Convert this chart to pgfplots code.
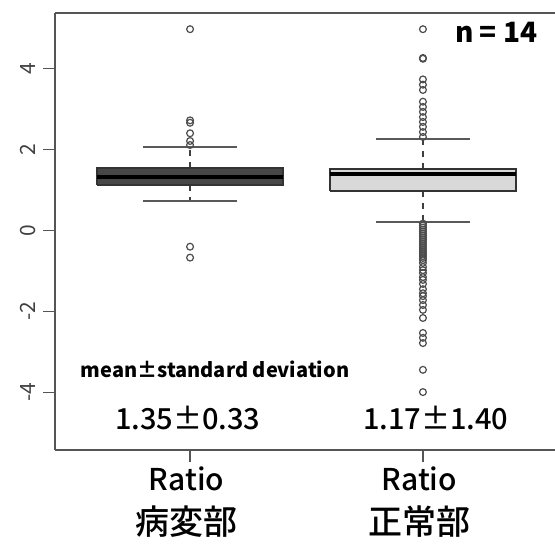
\documentclass[border=0pt]{standalone}
\usepackage{pgfplots}
\pgfplotsset{compat=1.18}
\usepackage{fontspec}
\setmainfont{Noto Sans CJK JP}
\newfontfamily\medium{Noto Sans CJK JP Medium}
\definecolor{axgray}{HTML}{555555}
\definecolor{boxdark}{HTML}{474747}
\definecolor{boxlight}{HTML}{D9D9D9}
\begin{document}
\begin{tikzpicture}
\begin{axis}[
  name=ax,
  scale only axis,
  width=251.5pt, height=218.5pt,
  xmin=0.42, xmax=2.58,
  ymin=-5.42, ymax=5.37,
  axis line style={axgray, line width=1pt},
  tick style={axgray, line width=0.8pt},
  tick align=outside,
  major tick length=6pt,
  xtick={1,2},
  xticklabels={},
  ytick={-4,-2,0,2,4},
  yticklabel style={rotate=90, anchor=south, font=\fontsize{10.5}{12}\selectfont, text=black!75},
  /pgf/number format/assume math mode=true,
  xtick pos=bottom, ytick pos=left,
  axis x line*=bottom, axis y line*=left,
  clip=false,
]
% top border line
\addplot[axgray, line width=1pt] coordinates {(0.42,5.37) (2.58,5.37)};
% ---- box 1 ----
\addplot[dashed, black!75, line width=0.7pt] coordinates {(1,1.54) (1,2.06)};
\addplot[dashed, black!75, line width=0.7pt] coordinates {(1,1.12) (1,0.73)};
\addplot[black!65, line width=0.8pt] coordinates {(0.8,2.06) (1.2,2.06)};
\addplot[black!65, line width=0.8pt] coordinates {(0.8,0.73) (1.2,0.73)};
\addplot[fill=boxdark, draw=black!80, line width=0.8pt] coordinates {(0.6,1.12) (1.4,1.12) (1.4,1.54) (0.6,1.54) (0.6,1.12)};
\addplot[black, line width=2pt] coordinates {(0.6,1.32) (1.4,1.32)};
\addplot[only marks, mark=o, mark size=1.7pt, black!70, mark options={line width=0.6pt}] coordinates {
(1,4.97) (1,2.72) (1,2.66) (1,2.40) (1,2.21) (1,2.11) (1,-0.40) (1,-0.67)};
% ---- box 2 ----
\addplot[dashed, black!75, line width=0.7pt] coordinates {(2,1.52) (2,2.26)};
\addplot[dashed, black!75, line width=0.7pt] coordinates {(2,0.98) (2,0.21)};
\addplot[black!65, line width=0.8pt] coordinates {(1.8,2.26) (2.2,2.26)};
\addplot[black!65, line width=0.8pt] coordinates {(1.8,0.21) (2.2,0.21)};
\addplot[fill=boxlight, draw=black!80, line width=0.8pt] coordinates {(1.6,0.98) (2.4,0.98) (2.4,1.52) (1.6,1.52) (1.6,0.98)};
\addplot[black, line width=2pt] coordinates {(1.6,1.39) (2.4,1.39)};
\addplot[only marks, mark=o, mark size=1.7pt, black!70, mark options={line width=0.6pt}] coordinates {
(2,4.97) (2,4.26) (2,4.24) (2,3.73) (2,3.60) (2,3.47) (2,3.18) (2,3.05) (2,2.93) (2,2.80) (2,2.68) (2,2.56) (2,2.43) (2,2.31)
(2,0.17) (2,0.12) (2,0.07) (2,0.02) (2,-0.03) (2,-0.08) (2,-0.13) (2,-0.18) (2,-0.23) (2,-0.28) (2,-0.33) (2,-0.38)
(2,-0.43) (2,-0.48) (2,-0.53) (2,-0.58) (2,-0.63) (2,-0.68) (2,-0.73) (2,-0.80) (2,-0.90) (2,-0.98) (2,-1.05) (2,-1.15)
(2,-1.22) (2,-1.32) (2,-1.45) (2,-1.55) (2,-1.62) (2,-1.72) (2,-1.84) (2,-1.96) (2,-2.16) (2,-2.53) (2,-2.65) (2,-2.78)
(2,-3.44) (2,-3.99)};
% ---- texts ----
\node[font=\bfseries\fontsize{14}{15}\selectfont] at (axis cs:2.315,4.9) {n = 14};
\node[font=\bfseries\fontsize{10}{12}\selectfont] at (axis cs:1.107,-3.44) {mean±standard deviation};
\node[font=\medium\fontsize{14.5}{16}\selectfont] at (axis cs:0.99,-4.63) {1.35±0.33};
\node[font=\medium\fontsize{14.5}{16}\selectfont] at (axis cs:2.055,-4.63) {1.17±1.40};
\node[font=\medium\fontsize{15}{22}\selectfont, align=center, anchor=north] at ([yshift=-5pt]axis cs:0.985,-5.42) {Ratio\\{\fontsize{17}{22}\selectfont 病変部}};
\node[font=\medium\fontsize{15}{22}\selectfont, align=center, anchor=north] at ([yshift=-5pt]axis cs:1.985,-5.42) {Ratio\\{\fontsize{17}{22}\selectfont 正常部}};
\end{axis}
\pgfresetboundingbox
\path ([xshift=-27.5pt,yshift=-47.5pt]ax.south west) rectangle ([xshift=-1.5pt,yshift=6.5pt]ax.north east);
\end{tikzpicture}
\end{document}
